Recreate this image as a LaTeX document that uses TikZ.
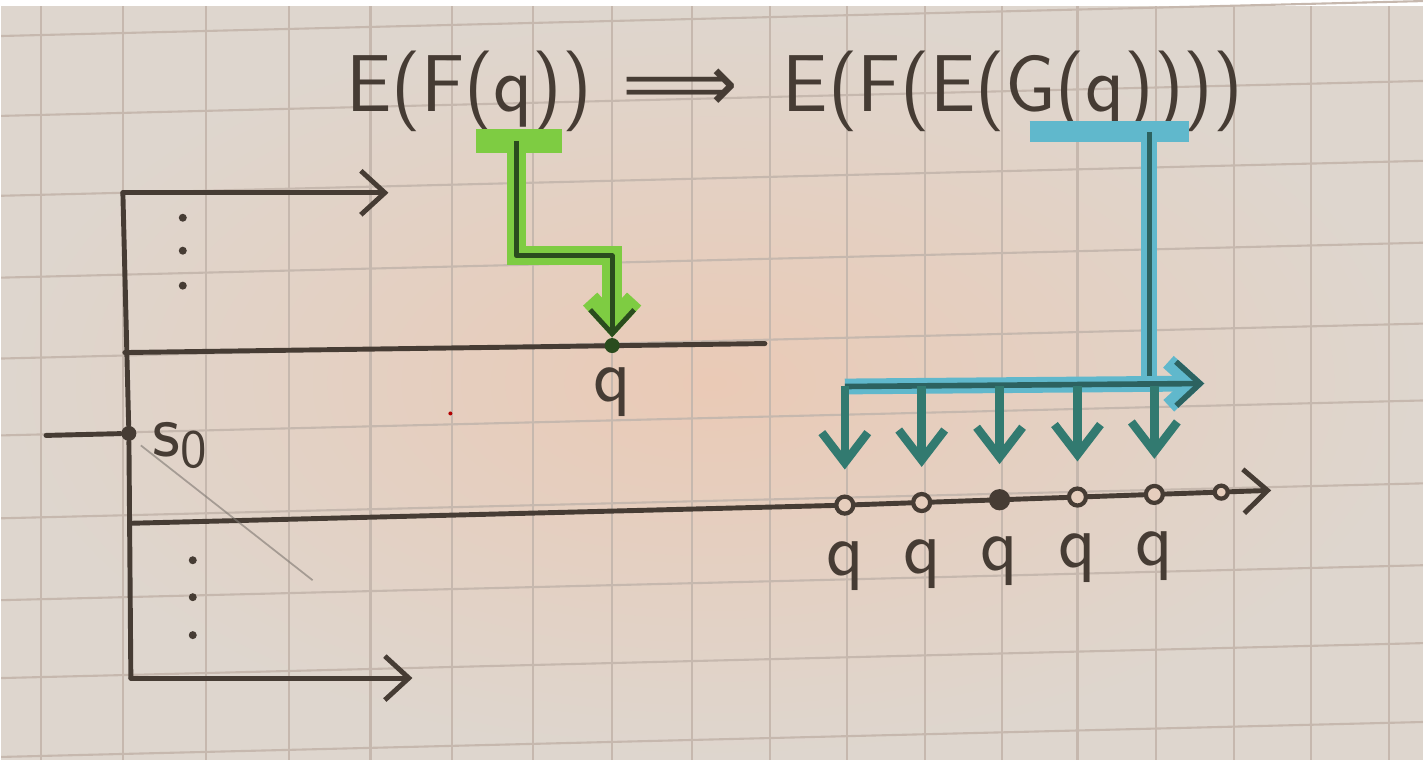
\documentclass[tikz,border=0pt]{standalone}
\usepackage{fontspec}
\newfontfamily\arrowfont{DejaVu Sans}
\usetikzlibrary{arrows.meta,positioning}

\definecolor{ink}{RGB}{70,60,52}
\definecolor{paper}{RGB}{222,214,206}
\definecolor{paperwarm}{RGB}{234,202,182}
\definecolor{gridline}{RGB}{198,184,174}
\definecolor{hlgreen}{RGB}{126,204,66}
\definecolor{dkgreen}{RGB}{42,76,30}
\definecolor{hlcyan}{RGB}{96,184,204}
\definecolor{dkteal}{RGB}{44,98,96}
\definecolor{midteal}{RGB}{50,122,112}

\begin{document}
\begin{tikzpicture}[x=0.01cm, y=-0.01cm,
    pen/.style={draw=ink, line width=1.4pt, line cap=round, line join=round},
    barb/.style={-{Straight Barb[length=2.4mm, width=4.4mm]}},
    title/.style={inner sep=0pt, text=ink, font=\fontsize{23}{28}\selectfont\sffamily},
    lbl/.style={inner sep=1pt, text=ink, font=\fontsize{22}{26}\selectfont\sffamily},
    opendot/.style={circle, draw=ink, line width=1.2pt, fill=paperwarm!70!paper, minimum size=0.17cm, inner sep=0pt},
    fulldot/.style={circle, fill=ink, minimum size=0.15cm, inner sep=0pt},
    tinydot/.style={circle, fill=ink, minimum size=0.08cm, inner sep=0pt},
    greenlink/.style={draw=dkgreen, line width=1.4pt, line join=round, preaction={draw=hlgreen, line width=5.5pt}},
    teallink/.style={draw=dkteal, line width=1.6pt, line join=round, preaction={draw=hlcyan, line width=4.5pt}},
    downarr/.style={draw=midteal, line width=2.4pt, -{Straight Barb[length=3mm, width=4.6mm]}, shorten >=0.25cm},
]
    % paper and squares
    \fill[inner color=paperwarm, outer color=paper] (0,0) rectangle (1424,755);
    \foreach \gx in {40,122,205,288,370,452,533,612,692,770,847,925,1002,1078,1157,1235,1312,1390}
        \draw[gridline, line width=0.6pt] (\gx,0) -- (\gx,755);
    \foreach \gy in {30,110,190,272,353,430,513,595,673,752}
        \draw[gridline, line width=0.6pt] (0,\gy) -- (1424,\gy-35);

    %----- formula
    \node (formula) at (345,106) [title, anchor=base west]
        {E(F(q))\hspace{0.3cm}{\arrowfont ⟹}\hspace{0.45cm}E(F(E(G(q))))};

    %----- left frame
    \coordinate (topL) at (122,187);
    \coordinate (topR) at (388,187);
    \coordinate (midL) at (124,347);
    \coordinate (midR) at (765,338);
    \coordinate (inL) at (45,430);
    \coordinate (botL) at (129,518);
    \coordinate (bend) at (840,500);
    \coordinate (lineEnd) at (1272,485);
    \coordinate (baseL) at (130,673);
    \coordinate (baseR) at (412,673);
    \node (s0) at (128,428) [fulldot] {};
    \node (s0lbl) at (180,440) [lbl] {s\textsubscript{0}};

    \draw[pen] (topL) -- (s0) -- (baseL);
    \draw[pen, barb] (topL) -- (topR);
    \draw[pen, barb] (baseL) -- (baseR);
    \draw[pen] (midL) -- (midR);
    \draw[pen] (inL) -- (s0);
    \draw[pen, barb] (botL) -- (bend) -- (lineEnd);

    \foreach \dy in {212,245,280}
        \node at (182,\dy) [tinydot] {};
    \foreach \dy in {555,592,630}
        \node at (192,\dy) [tinydot] {};

    \draw[ink!70, line width=0.5pt, opacity=0.6] (140,440) -- (312,575);
    \fill[red!70!black] (450,408) circle (0.02cm);

    %----- green step
    \coordinate (gbarL) at (476,135);
    \coordinate (gbarR) at (562,135);
    \coordinate (gTop) at (516,135);
    \node (qdot) at (612,340) [fulldot, fill=dkgreen] {};
    \node (qlbl) [lbl, below=0.1cm of qdot] {q};

    \draw[hlgreen, line width=7pt] (gbarL) -- (gbarR);
    \draw[greenlink, barb] (gTop) -- ++(0,115) -| (qdot);

    %----- teal fan
    \node (d1) at (845,499.8) [opendot] {};
    \node (d2) at (922,497.2) [opendot] {};
    \node (d3) at (1000,494.4) [opendot, fill=ink] {};
    \node (d4) at (1078,491.7) [opendot] {};
    \node (d5) at (1155,489.1) [opendot] {};
    \node (d6) at (1222,486.8) [opendot, minimum size=0.13cm] {};
    \foreach \i in {1,...,5}
        \node (ql\i) [lbl, below=0.22cm of d\i] {q};

    \coordinate (cbarL) at (1030,126);
    \coordinate (cbarR) at (1190,126);
    \coordinate (cTop) at (1150,126);
    \coordinate (busL) at (845,381);
    \coordinate (busR) at (1205,378);

    \draw[hlcyan, line width=6pt] (cbarL) -- (cbarR);
    \draw[teallink] (cTop) -- (cTop |- busL);
    \draw[teallink, barb] (busL) -- (busR);
    \foreach \i in {1,...,5}
        \draw[downarr] (d\i |- busL) -- (d\i);
\end{tikzpicture}
\end{document}
